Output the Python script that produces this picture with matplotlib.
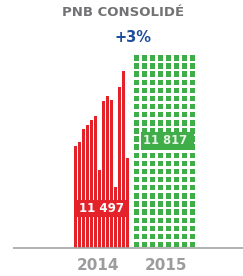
import numpy as np
import matplotlib.pyplot as plt
from matplotlib.patches import Rectangle

# data
title = "PNB CONSOLIDÉ"
growth_label = "+3%"
years = ["2014", "2015"]
totals = ["11 497", "11 817"]
# heights of the thin 2014 bars (chart units, baseline = 0)
bars_2014 = [102, 106, 119, 123, 128, 132, 78, 147, 152, 148, 61, 161, 177, 90]
# 2015 drawn as a grid of squares
grid_cols = 8
grid_rows = 24

red = "#e42229"
green = "#3fae49"
grey_line = "#a3a3a5"
grey_text = "#9c9c9e"
title_col = "#727274"
blue = "#1f4e9c"

fig = plt.figure(figsize=(2.43, 2.76), dpi=100)
ax = fig.add_axes([0, 0, 1, 1])
ax.set_xlim(0, 243)
ax.set_ylim(-28, 248)
ax.axis('off')

# 2014: thin red bars
x_red = 74 + 1.35 + 4 * np.arange(len(bars_2014))
ax.bar(x_red, bars_2014, width=2.7, color=red, linewidth=0)

# 2015: green squares
pitch_x, pitch_y, size = 7.95, 8.12, 5.4
for c in range(grid_cols):
    xs = 134 + c * pitch_x
    ax.bar(np.full(grid_rows, xs + size / 2), size, bottom=0.7 + np.arange(grid_rows) * pitch_y,
           width=size, color=green, linewidth=0)

# value labels
ax.add_patch(Rectangle((74, 31), 54, 17, color=red, lw=0, zorder=3))
ax.text(101, 39.5, totals[0], color='white', fontsize=8.5, fontweight='bold',
        ha='center', va='center', zorder=4)
ax.add_patch(Rectangle((141, 98), 53, 18, color=green, lw=0, zorder=3))
ax.text(165, 107, totals[1], color='#e6f2e6', fontsize=8.3, fontweight='bold',
        ha='center', va='center', zorder=4)

# baseline
ax.plot([13, 243], [0, 0], color=grey_line, lw=1.2, solid_capstyle='butt')

# titles
ax.text(123.5, 235, title, color=title_col, fontsize=9.5, fontweight='bold',
        ha='center', va='center')
ax.text(132.5, 211, growth_label, color=blue, fontsize=10.5, fontweight='bold',
        ha='center', va='center')

# year labels
for xc, yr in zip([98, 165.5], years):
    ax.text(xc, -17, yr, color=grey_text, fontsize=11, fontweight='bold',
            ha='center', va='center')

fig.savefig("out.png", dpi=100)
